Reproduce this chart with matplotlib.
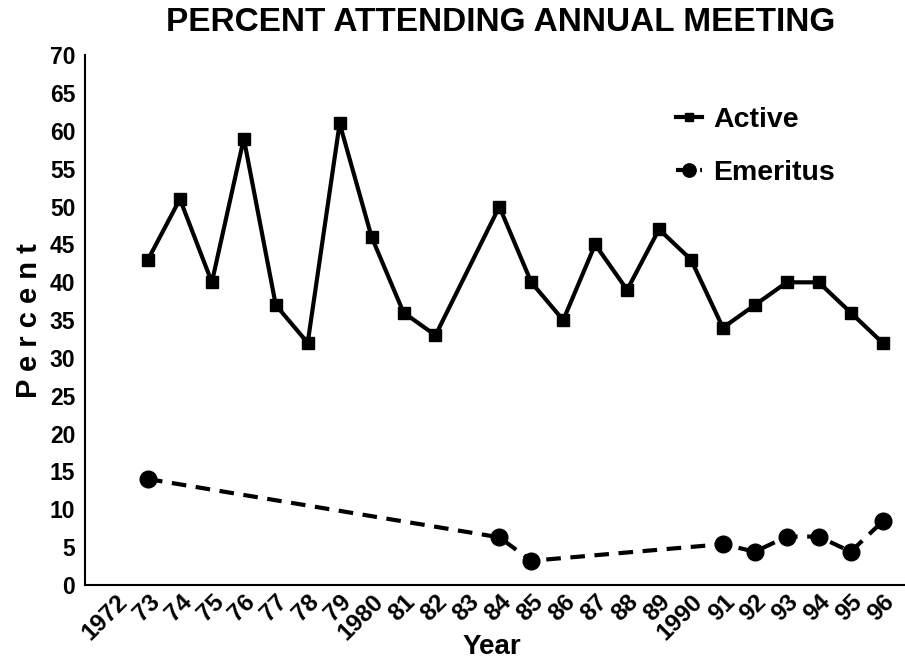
import matplotlib
matplotlib.use("Agg")
import matplotlib.pyplot as plt

plt.rcParams['font.family'] = ['Liberation Sans', 'DejaVu Sans']
plt.rcParams['font.weight'] = 'bold'

# data
active_years = [1973, 1974, 1975, 1976, 1977, 1978, 1979, 1980, 1981, 1982,
                1984, 1985, 1986, 1987, 1988, 1989, 1990, 1991, 1992, 1993,
                1994, 1995, 1996]
active_pct = [43, 51, 40, 59, 37, 32, 61, 46, 36, 33,
              50, 40, 35, 45, 39, 47, 43, 34, 37, 40,
              40, 36, 32]

emeritus_years = [1973, 1984, 1985, 1991, 1992, 1993, 1994, 1995, 1996]
emeritus_pct = [14, 6.3, 3.2, 5.4, 4.4, 6.4, 6.4, 4.4, 8.4]

tick_years = list(range(1972, 1997))
tick_labels = [str(y) if y in (1972, 1980, 1990) else str(y)[2:] for y in tick_years]

fig = plt.figure(figsize=(9.05, 6.66), dpi=100)
ax = fig.add_axes([0.094, 0.1216, 0.906, 0.7954])

ax.plot(active_years, active_pct, color='black', linewidth=3,
        marker='s', markersize=8, label='Active')
ax.plot(emeritus_years, emeritus_pct, color='black', linewidth=3,
        dashes=(3.5, 2.3), marker='o', markersize=12, label='Emeritus')

ax.set_xlim(1971.03, 1996.7)
ax.set_ylim(0, 70)
ax.set_yticks(range(0, 71, 5))
ax.set_xticks(tick_years)
ax.set_xticklabels(tick_labels, rotation=45, ha='right', va='top',
                   rotation_mode='anchor', fontsize=17.5, fontweight='bold')
ax.tick_params(axis='both', length=0)
ax.tick_params(axis='y', labelsize=16.5, pad=7)
ax.tick_params(axis='x', pad=4)
for lab in ax.get_yticklabels():
    lab.set_fontweight('bold')

for side in ('top', 'right'):
    ax.spines[side].set_visible(False)
ax.spines['left'].set_linewidth(1.5)
ax.spines['bottom'].set_linewidth(1.5)

ax.set_ylabel('P e r c e n t', fontsize=21, fontweight='bold', labelpad=5)
ax.set_xlabel('Year', fontsize=20, fontweight='bold')
ax.xaxis.set_label_coords(0.496, -0.093)
fig.suptitle('PERCENT ATTENDING ANNUAL MEETING', fontsize=24,
             fontweight='bold', x=0.553, y=0.99)

leg = ax.legend(loc='upper left', bbox_to_anchor=(0.69, 0.95), frameon=False,
                fontsize=20.5, handlelength=0.9, handletextpad=0.4,
                labelspacing=0.95, markerscale=0.8)
for t in leg.get_texts():
    t.set_fontweight('bold')

fig.savefig('out.png', dpi=100)
